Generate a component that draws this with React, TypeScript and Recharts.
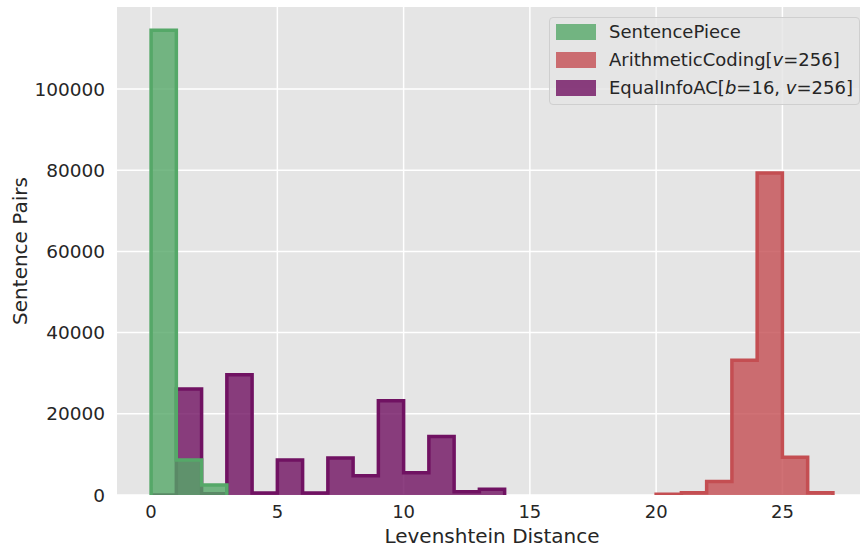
import React from 'react';
import { ComposedChart, Area, XAxis, YAxis, CartesianGrid } from 'recharts';

const sentencePieceStart = 0;
const sentencePieceCounts = [114500, 8600, 2450];

const arithmeticStart = 20;
const arithmeticCounts = [200, 550, 3300, 33200, 79300, 9300, 550];

const equalInfoStart = 0;
const equalInfoCounts = [0, 26100, 300, 29600, 500, 8600, 500, 9100, 4750, 23200, 5500, 14400, 800, 1400];

const xTicks = [0, 5, 10, 15, 20, 25];
const yTicks = [0, 20000, 40000, 60000, 80000, 100000];

const GREEN = '#55A868';
const RED = '#C44E52';
const PURPLE = '#701262';
const TEXT = '#262626';
const FONT = '"DejaVu Sans", sans-serif';

// step outline: start at 0, one point per bin, drop back to 0 at the end
const toSteps = (start: number, counts: number[]) => [
  { x: start, y: 0 },
  ...counts.map((c, i) => ({ x: start + i, y: c })),
  { x: start + counts.length, y: 0 },
];

const sentencePieceData = toSteps(sentencePieceStart, sentencePieceCounts);
const arithmeticData = toSteps(arithmeticStart, arithmeticCounts);
const equalInfoData = toSteps(equalInfoStart, equalInfoCounts);

const legendItems = [
  { color: GREEN, label: <>SentencePiece</> },
  { color: RED, label: <>ArithmeticCoding[<i>v</i>=256]</> },
  { color: PURPLE, label: <>EqualInfoAC[<i>b</i>=16, <i>v</i>=256]</> },
];

const LegendBox = () => (
  <div
    style={{
      position: 'absolute',
      left: 549,
      top: 17,
      width: 309,
      height: 86,
      border: '1px solid #cfcfcf',
      borderRadius: 4,
      background: 'rgba(229,229,229,0.8)',
      fontFamily: FONT,
      fontSize: 18,
      color: TEXT,
    }}
  >
    {legendItems.map((it, i) => (
      <div
        key={i}
        style={{ position: 'absolute', left: 6, top: 5 + i * 28, height: 18, display: 'flex', alignItems: 'center', whiteSpace: 'nowrap' }}
      >
        <div style={{ width: 40, height: 16, background: it.color, opacity: 0.8, marginRight: 13 }} />
        <span style={{ lineHeight: '18px' }}>{it.label}</span>
      </div>
    ))}
  </div>
);

const areaProps = {
  dataKey: 'y',
  type: 'stepAfter' as const,
  fillOpacity: 0.8,
  strokeWidth: 3.5,
  strokeLinejoin: 'miter' as const,
  dot: false,
  activeDot: false,
  isAnimationActive: false,
};

export default function App() {
  return (
    <div style={{ position: 'absolute', left: 0, top: 0, width: 860, height: 547, overflow: 'hidden', background: '#fff' }}>
      <ComposedChart width={867} height={547} margin={{ top: 7, right: 0, bottom: 0, left: 0 }}>
        <CartesianGrid fill="#e5e5e5" stroke="#ffffff" strokeWidth={1.5} horizontalValues={yTicks} verticalValues={xTicks} />
        <XAxis
          dataKey="x"
          type="number"
          domain={[-1.35, 28.35]}
          allowDataOverflow
          ticks={xTicks}
          tickLine={false}
          axisLine={false}
          height={52}
          tickMargin={4}
          tick={{ fill: TEXT, fontSize: 18, fontFamily: FONT }}
          label={{ value: 'Levenshtein Distance', position: 'insideBottom', offset: 4, fill: TEXT, fontSize: 20, fontFamily: FONT }}
        />
        <YAxis
          type="number"
          domain={[0, 120200]}
          allowDataOverflow
          ticks={yTicks}
          tickLine={false}
          axisLine={false}
          width={117}
          tickMargin={6}
          tick={{ fill: TEXT, fontSize: 18.5, fontFamily: FONT }}
          label={{ value: 'Sentence Pairs', angle: -90, position: 'insideLeft', offset: 20, fill: TEXT, fontSize: 20, fontFamily: FONT, style: { textAnchor: 'middle' } }}
        />
        <Area {...areaProps} data={equalInfoData} fill={PURPLE} stroke={PURPLE} />
        <Area {...areaProps} data={arithmeticData} fill={RED} stroke={RED} />
        <Area {...areaProps} data={sentencePieceData} fill={GREEN} stroke={GREEN} />
      </ComposedChart>
      <LegendBox />
    </div>
  );
}
